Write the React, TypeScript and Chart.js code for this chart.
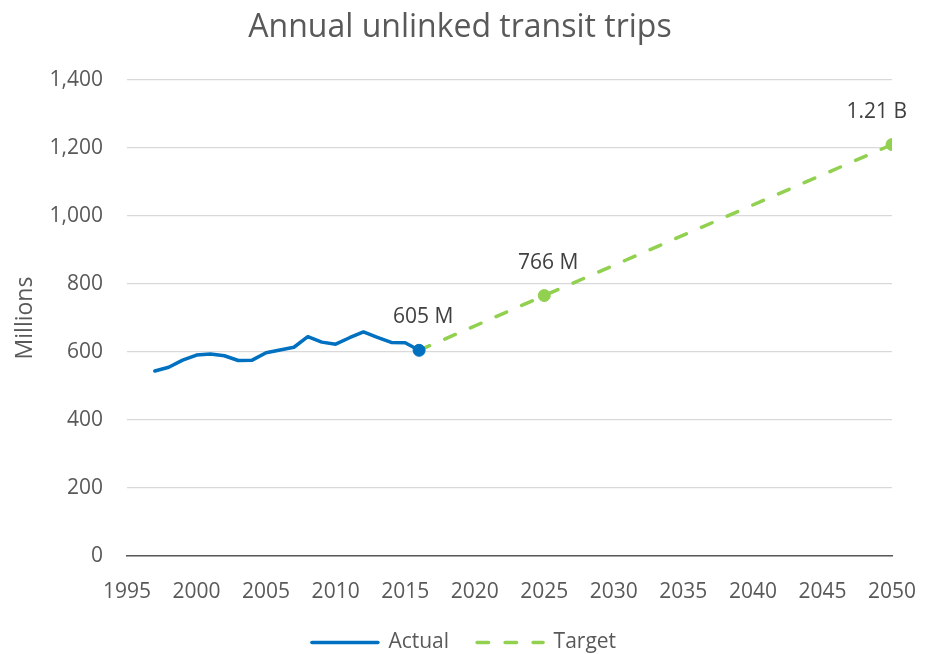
import React, { useEffect, useRef } from "react";
import { Chart, registerables } from "chart.js";

Chart.register(...registerables);

const chartTitle = "Annual unlinked transit trips";
const yAxisTitle = "Millions";

const actualYears = [1997, 1998, 1999, 2000, 2001, 2002, 2003, 2004, 2005, 2006, 2007, 2008, 2009, 2010, 2011, 2012, 2013, 2014, 2015, 2016];
const actualValues = [544, 555, 576, 591, 594, 589, 575, 576, 598, 606, 614, 645, 629, 623, 642, 659, 643, 628, 627, 605];
const actualLabels = ["", "", "", "", "", "", "", "", "", "", "", "", "", "", "", "", "", "", "", "605 M"];

const targetYears = [2016, 2025, 2050];
const targetValues = [605, 766, 1210];
const targetLabels = ["", "766 M", "1.21 B"];

const seriesNames = ["Actual", "Target"];

const xMin = 1995;
const xMax = 2050;
const xStep = 5;
const yMin = 0;
const yMax = 1400;
const yStep = 200;

const FONT = '"Open Sans", "DejaVu Sans", sans-serif';
const TEXT = "#595959";
const BLUE = "#0070C0";
const GREEN = "#92D050";
const DASH = [11.5, 16.5];

const pointLabelPlugin = {
  id: "pointLabelPlugin",
  afterLayout(chart: any) {
    const lg = chart.legend;
    if (lg) {
      lg.left += 18;
      lg.right += 18;
      lg.top += 3;
      lg.bottom += 3;
    }
    const tb = chart.titleBlock;
    if (tb) {
      tb.left += 14;
      tb.right += 14;
    }
  },
  afterDatasetsDraw(chart: any) {
    const ctx = chart.ctx;
    ctx.save();
    ctx.font = `21px ${FONT}`;
    ctx.fillStyle = "#404040";
    ctx.textAlign = "center";
    ctx.textBaseline = "middle";
    chart.data.datasets.forEach((ds: any, di: number) => {
      const labels: string[] = ds.pointLabels || [];
      const meta = chart.getDatasetMeta(di);
      meta.data.forEach((pt: any, i: number) => {
        const t = labels[i];
        if (!t) return;
        const w = ctx.measureText(t).width;
        let x = pt.x + 4;
        const maxRight = chart.chartArea.right + 15;
        if (x + w / 2 > maxRight) x = maxRight - w / 2;
        ctx.fillText(t, x, pt.y - 33);
      });
    });
    ctx.restore();
  },
};

export default function App() {
  const canvasRef = useRef<HTMLCanvasElement | null>(null);

  useEffect(() => {
    if (!canvasRef.current) return;
    const actualData = actualYears.map((x, i) => ({ x, y: actualValues[i] }));
    const targetData = targetYears.map((x, i) => ({ x, y: targetValues[i] }));
    const lastActual = actualData.length - 1;

    const chart = new Chart(canvasRef.current, {
      type: "line",
      data: {
        datasets: [
          {
            label: seriesNames[0],
            data: actualData,
            borderColor: BLUE,
            backgroundColor: BLUE,
            borderWidth: 3.5,
            borderCapStyle: "round",
            borderJoinStyle: "round",
            tension: 0,
            pointRadius: (c: any) => (c.dataIndex === lastActual ? 6 : 0),
            pointBorderWidth: 1,
            pointBackgroundColor: BLUE,
            pointBorderColor: BLUE,
            pointLabels: actualLabels,
          } as any,
          {
            label: seriesNames[1],
            data: targetData,
            borderColor: GREEN,
            backgroundColor: GREEN,
            borderWidth: 3.5,
            borderDash: DASH,
            borderCapStyle: "round",
            tension: 0,
            pointRadius: (c: any) => (c.dataIndex === 0 ? 0 : 6),
            pointBorderWidth: 1,
            pointBackgroundColor: GREEN,
            pointBorderColor: GREEN,
            pointLabels: targetLabels,
          } as any,
        ],
      },
      options: {
        responsive: false,
        animation: false,
        layout: { padding: { left: 0, right: 36, top: 0, bottom: -6 } },
        plugins: {
          title: {
            display: true,
            text: chartTitle,
            color: TEXT,
            font: { family: FONT, size: 32, weight: "normal" },
            padding: { top: 9, bottom: 32.6 },
          },
          legend: {
            position: "bottom",
            labels: {
              usePointStyle: true,
              pointStyleWidth: 66,
              padding: 28,
              color: TEXT,
              font: { family: FONT, size: 21 },
              generateLabels: () => [
                { text: seriesNames[0], strokeStyle: BLUE, fillStyle: BLUE, lineWidth: 3.5, lineDash: [], lineCap: "round", pointStyle: "line", datasetIndex: 0, hidden: false, fontColor: TEXT },
                { text: seriesNames[1], strokeStyle: GREEN, fillStyle: GREEN, lineWidth: 3.5, lineDash: DASH, lineCap: "round", pointStyle: "line", datasetIndex: 1, hidden: false, fontColor: TEXT },
              ] as any,
            },
          },
          tooltip: { enabled: false },
        },
        scales: {
          x: {
            type: "linear",
            min: xMin,
            max: xMax,
            afterFit: (s: any) => {
              s.height = 45;
              s.paddingRight = 0;
              s.paddingLeft = 0;
            },
            ticks: {
              stepSize: xStep,
              padding: 23,
              color: TEXT,
              font: { family: FONT, size: 21 },
              callback: (v: any) => String(v),
              maxRotation: 0,
            },
            grid: { display: false, drawTicks: false },
            border: { display: true, color: "#595959", width: 1.5 },
          },
          y: {
            min: yMin,
            max: yMax,
            afterFit: (s: any) => {
              s.width = 127;
            },
            ticks: {
              stepSize: yStep,
              padding: 24,
              color: TEXT,
              font: { family: FONT, size: 21 },
            },
            grid: { color: "#d9d9d9", lineWidth: 1.3, drawTicks: false },
            border: { display: false },
            title: {
              display: true,
              text: yAxisTitle,
              color: TEXT,
              font: { family: FONT, size: 23, weight: "normal" },
              padding: { top: 12, bottom: 0 },
            },
          },
        },
      } as any,
      plugins: [pointLabelPlugin],
    });
    return () => chart.destroy();
  }, []);

  return (
    <div style={{ position: "absolute", left: 0, top: 0, width: 928, height: 654, background: "#fff" }}>
      <canvas ref={canvasRef} width={928} height={654} />
    </div>
  );
}
